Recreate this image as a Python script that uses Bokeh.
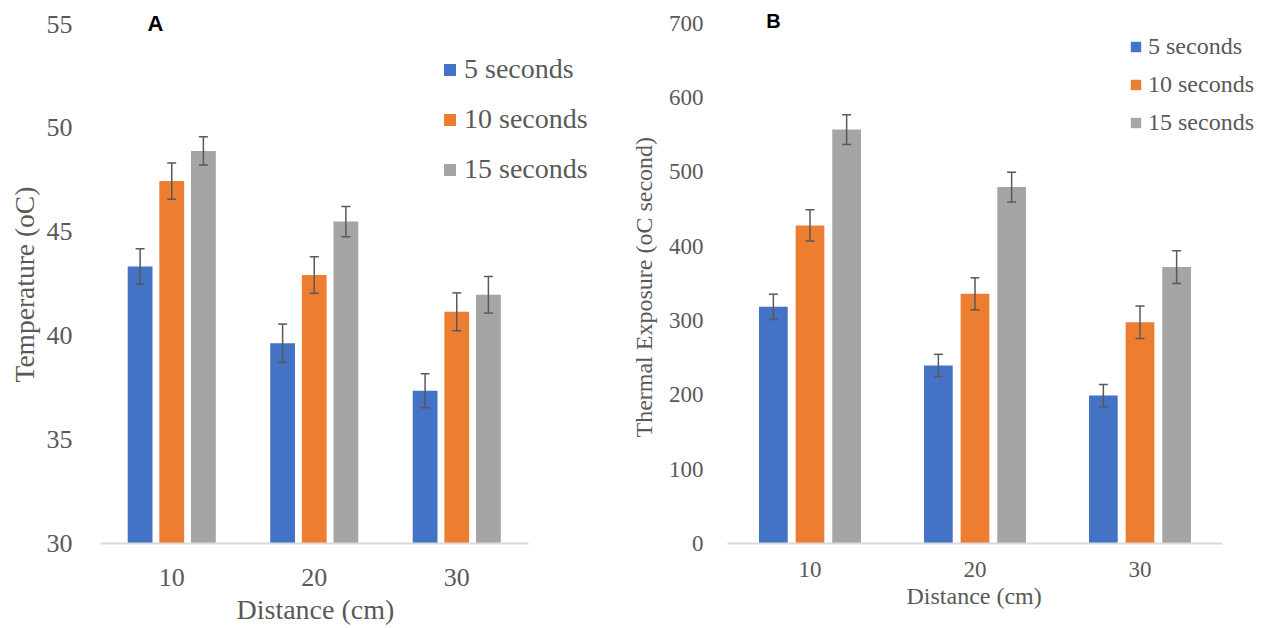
from bokeh.plotting import figure
from bokeh.models import (Range1d, FixedTicker, ColumnDataSource, Whisker,
                          TeeHead, Legend, LegendItem, Label, Title)
from bokeh.transform import dodge
from bokeh.layouts import row
from bokeh.embed import file_html
from bokeh.resources import INLINE

# ---------------- data ----------------
distances = ["10", "20", "30"]
series_names = ["5 seconds", "10 seconds", "15 seconds"]
colors = ["#4472C4", "#ED7D31", "#A5A5A5"]

temp_5 = [43.33, 39.64, 37.35]
temp_10 = [47.44, 42.92, 41.15]
temp_15 = [48.89, 45.49, 41.97]
temp_err_5 = [0.85, 0.92, 0.82]
temp_err_10 = [0.87, 0.88, 0.91]
temp_err_15 = [0.68, 0.73, 0.88]

exp_5 = [318.5, 239.6, 199.0]
exp_10 = [428.0, 336.0, 297.7]
exp_15 = [557.0, 479.6, 371.9]
exp_err_5 = [17, 15, 15]
exp_err_10 = [21, 21.5, 22]
exp_err_15 = [20, 20, 22]

temp_ticks = [30, 35, 40, 45, 50, 55]
exp_ticks = [0, 100, 200, 300, 400, 500, 600, 700]

TXT = "#595959"
SERIF = "Liberation Serif"
OFFSETS = [-0.222, 0.0, 0.222]
BAR_W = 0.174

# category slots on a numeric scale (centres at i + 0.5)
cat_pos = [i + 0.5 for i in range(len(distances))]


def make_panel(width, height, borders, x_end, y_min, y_max, ticks, vals, errs,
               ylabel, xlabel, tick_fs, ytitle_fs, xtitle_fs, legend_fs, legend_cfg,
               letter, letter_pos, letter_fs, ystand, xstand,
               ytitle_cfg, xtitle_cfg):
    p = figure(width=width, height=height, x_range=Range1d(0, x_end),
               y_range=Range1d(y_min, y_max), output_backend="svg",
               toolbar_location=None, tools="")
    p.min_border_left, p.min_border_right, p.min_border_top, p.min_border_bottom = borders
    p.outline_line_color = None
    p.background_fill_color = "white"
    p.border_fill_color = "white"
    p.xgrid.visible = False
    p.ygrid.visible = False

    # y axis
    p.yaxis.ticker = FixedTicker(ticks=ticks)
    p.yaxis.axis_line_color = None
    p.yaxis.major_tick_line_color = None
    p.yaxis.minor_tick_line_color = None
    p.yaxis.major_label_text_font = SERIF
    p.yaxis.major_label_text_font_size = tick_fs
    p.yaxis.major_label_text_color = TXT
    p.yaxis.major_label_standoff = ystand

    # x axis (category labels on numeric slots)
    p.xaxis.ticker = FixedTicker(ticks=cat_pos)
    p.xaxis.major_label_overrides = {c: d for c, d in zip(cat_pos, distances)}
    p.xaxis.bounds = (0, len(distances))
    p.xaxis.axis_line_color = "#D9D9D9"
    p.xaxis.axis_line_width = 2
    p.xaxis.major_tick_line_color = None
    p.xaxis.minor_tick_line_color = None
    p.xaxis.major_label_text_font = SERIF
    p.xaxis.major_label_text_font_size = tick_fs
    p.xaxis.major_label_text_color = TXT
    p.xaxis.major_label_standoff = xstand

    # axis titles (placed as side titles so they sit over the data area)
    yoff, ysto = ytitle_cfg
    p.add_layout(Title(text=ylabel, align="left", offset=yoff, standoff=ysto,
                       text_font=SERIF, text_font_size=ytitle_fs,
                       text_font_style="normal", text_color=TXT), "left")
    xoff, xsto = xtitle_cfg
    p.add_layout(Title(text=xlabel, align="left", offset=xoff, standoff=xsto,
                       text_font=SERIF, text_font_size=xtitle_fs,
                       text_font_style="normal", text_color=TXT), "below")

    items = []
    for name, col, off, v, e in zip(series_names, colors, OFFSETS, vals, errs):
        src = ColumnDataSource(dict(
            xc=cat_pos, top=v,
            upper=[a + b for a, b in zip(v, e)],
            lower=[a - b for a, b in zip(v, e)]))
        r = p.vbar(x=dodge("xc", off), top="top", bottom=y_min,
                   width=BAR_W, source=src, fill_color=col, line_color=None)
        items.append(LegendItem(label=name, renderers=[r]))
        w = Whisker(source=src, base=dodge("xc", off),
                    upper="upper", lower="lower", dimension="height",
                    line_color="#595959", line_width=1.5, level="overlay",
                    upper_head=TeeHead(size=9, line_color="#595959", line_width=1.5),
                    lower_head=TeeHead(size=9, line_color="#595959", line_width=1.5))
        p.add_layout(w)

    gw, lh, sp, loc, stand = legend_cfg
    legend = Legend(items=items, location=loc, orientation="vertical",
                    glyph_width=gw, glyph_height=gw, label_height=lh, spacing=sp,
                    label_standoff=stand, padding=0, margin=0,
                    border_line_color=None, background_fill_alpha=0,
                    label_text_font=SERIF, label_text_font_size=legend_fs,
                    label_text_color=TXT)
    p.add_layout(legend)

    lab = Label(x=letter_pos[0], y=letter_pos[1], x_units="screen", y_units="screen",
                text=letter, text_font="Liberation Sans", text_font_style="bold",
                text_font_size=letter_fs, text_color="black",
                text_align="center", text_baseline="middle")
    p.add_layout(lab)
    return p


# Panel A: frame 516 px wide (142.5 px per category), 543 px tall (20.78 px per degree)
pA = make_panel(620, 628, (100, 4, 0, 85), 516 / 142.5, 30, 30 + 543 / 20.78, temp_ticks,
                [temp_5, temp_10, temp_15], [temp_err_5, temp_err_10, temp_err_15],
                "Temperature (oC)", "Distance (cm)", "26px", "27.5px", "28px", "28px",
                (15, 40, 10, (342, 354), 7), "A", (55, 520), "22px",
                22, 19, (161, 8), (136, 6))

# Panel B: frame 539 px wide (165 px per category), 548 px tall (0.75 px per unit)
pB = make_panel(650, 628, (107, 4, 0, 80), 539 / 165, 0, 548 / 0.75, exp_ticks,
                [exp_5, exp_10, exp_15], [exp_err_5, exp_err_10, exp_err_15],
                "Thermal Exposure (oC second)", "Distance (cm)", "23px", "24px", "24px",
                "24px", (13, 30, 8, (402, 406), 6), "B", (46, 523), "20px",
                18, 12, (106, 17), (179, 2))

layout = row(pA, pB, spacing=0)
open("out.html", "w").write(file_html(layout, INLINE))
